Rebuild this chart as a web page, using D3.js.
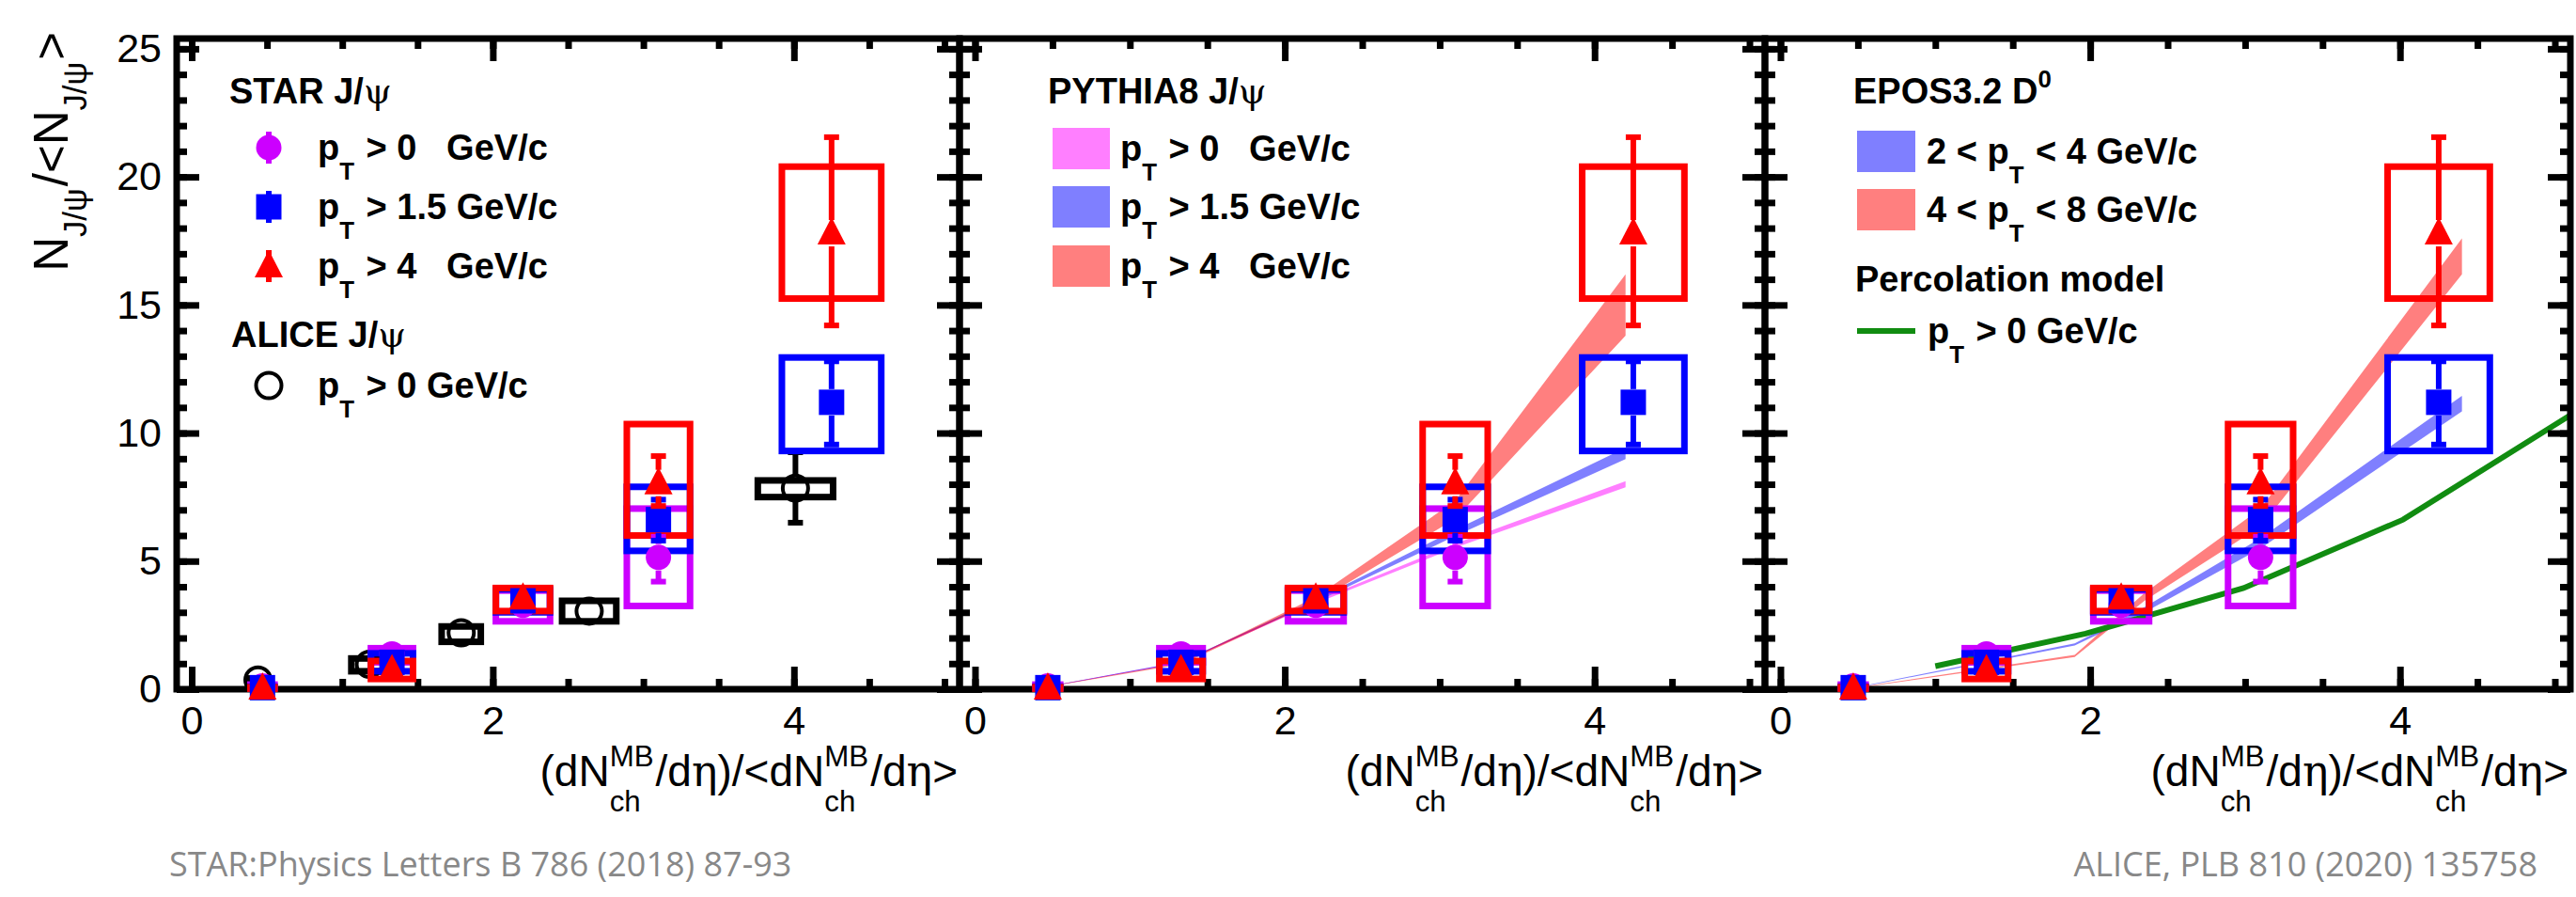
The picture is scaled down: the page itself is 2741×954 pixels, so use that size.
<!DOCTYPE html>
<html>
<head>
<meta charset="utf-8">
<title>J/psi yield vs multiplicity</title>
<style>
  body { margin: 0; background: #fff; }
  svg { font-family: "Liberation Sans", Arial, Helvetica, sans-serif; }
  svg text { white-space: pre; }
</style>
</head>
<body>
<svg width="2741" height="954"></svg>
<script src="https://d3js.org/d3.v7.min.js"></script>
<script>

// ---- data ----

// axis ticks
var xMajor = [0, 2, 4];
var xMinor = [0, 0.5, 1, 1.5, 2, 2.5, 3, 3.5, 4, 4.5, 5];
var yMajor = [0, 5, 10, 15, 20, 25];
var yMinor = d3.range(0, 26, 1);

// STAR J/psi, pT > 0
var star0X = [0.47, 1.33, 2.2, 3.1];
var star0Y = [0.13, 1.38, 3.28, 5.15];
var star0Lo = [0.05, 1.2, 3.05, 4.2];
var star0Hi = [0.2, 1.55, 3.5, 5.95];
var star0SysLo = [0.08, 1.05, 2.65, 3.25];
var star0SysHi = [0.18, 1.6, 3.85, 7.05];

// STAR J/psi, pT > 1.5
var star15X = [0.47, 1.33, 2.2, 3.1, 4.25];
var star15Y = [0.06, 1.05, 3.45, 6.62, 11.2];
var star15Lo = [0.02, 0.85, 3.2, 5.8, 9.55];
var star15Hi = [0.12, 1.25, 3.7, 7.4, 12.8];
var star15SysLo = [0.04, 0.7, 3.0, 5.4, 9.3];
var star15SysHi = [0.1, 1.4, 3.9, 7.9, 12.95];

// STAR J/psi, pT > 4
var star4X = [0.47, 1.33, 2.2, 3.1, 4.25];
var star4Y = [0.04, 0.75, 3.55, 8.05, 17.8];
var star4Lo = [0.01, 0.5, 3.2, 7.15, 14.2];
var star4Hi = [0.1, 1.0, 3.9, 9.1, 21.55];
var star4SysLo = [0.02, 0.4, 3.05, 6.0, 15.25];
var star4SysHi = [0.08, 1.1, 3.95, 10.35, 20.4];

// half width of the STAR systematic boxes
var starHalfW = [0.08, 0.14, 0.18, 0.21, 0.33];

// ALICE J/psi, pT > 0
var aliceX = [0.44, 1.18, 1.79, 2.64, 4.01];
var aliceY = [0.36, 0.97, 2.2, 3.05, 7.85];
var aliceLo = [0.3, 0.9, 2.1, 2.95, 6.5];
var aliceHi = [0.42, 1.05, 2.3, 3.15, 9.25];
var aliceSysLo = [0.3, 0.7, 1.85, 2.65, 7.5];
var aliceSysHi = [0.42, 1.2, 2.45, 3.45, 8.15];
var aliceHalfW = [0.05, 0.12, 0.13, 0.18, 0.25];

// PYTHIA8 bands
var pyX = [0.47, 1.33, 2.2, 3.1, 4.2];
var py0Mid = [0.1, 1.05, 3.4, 5.6, 8.0];
var py0Half = [0.01, 0.02, 0.05, 0.08, 0.12];
var py15Mid = [0.1, 1.05, 3.45, 6.1, 9.2];
var py15Half = [0.01, 0.02, 0.05, 0.12, 0.22];
var py4Mid = [0.1, 1.0, 3.5, 7.0, 15.0];
var py4Half = [0.01, 0.03, 0.1, 0.35, 1.2];

// EPOS3.2 D0 bands
var eposX = [0.45, 1.9, 2.35, 3.1, 4.4];
var eposLowMid = [0.02, 1.75, 3.1, 5.7, 11.15];
var eposLowHalf = [0.01, 0.04, 0.1, 0.2, 0.3];
var eposHighMid = [0.02, 1.3, 3.6, 6.7, 16.9];
var eposHighHalf = [0.01, 0.04, 0.15, 0.35, 0.7];

// percolation model, pT > 0
var percX = [1.0, 1.97, 2.99, 4.02, 5.1];
var percY = [0.9, 2.17, 3.95, 6.62, 10.7];

// ---- drawing ----

var svg = d3.select("svg");
svg.append("rect").attr("width", 2741).attr("height", 954).attr("fill", "#fff");

var y = d3.scaleLinear().domain([0, 25.4]).range([733, 41]);

var pads = [[188, 1021], [1021, 1878], [1878, 2735]].map(function(r) {
    return d3.scaleLinear().domain([-0.1, 5.1]).range(r);
});

function zipPts(xs, ys, lo, hi, slo, shi, hw) {
    return xs.map(function(x, i) {
        return {x: x, y: ys[i], lo: lo[i], hi: hi[i], slo: slo[i], shi: shi[i], hw: hw[i]};
    });
}

var star = [
    {color: "#cc00ff", shape: "circle", pts: zipPts(star0X, star0Y, star0Lo, star0Hi, star0SysLo, star0SysHi, starHalfW)},
    {color: "#0000ff", shape: "square", pts: zipPts(star15X, star15Y, star15Lo, star15Hi, star15SysLo, star15SysHi, starHalfW)},
    {color: "#ff0000", shape: "triangle", pts: zipPts(star4X, star4Y, star4Lo, star4Hi, star4SysLo, star4SysHi, starHalfW)}
];
var alice = {color: "#000", shape: "open", pts: zipPts(aliceX, aliceY, aliceLo, aliceHi, aliceSysLo, aliceSysHi, aliceHalfW)};

function band(xs, mid, half) {
    return xs.map(function(x, i) { return {x: x, lo: mid[i] - half[i], hi: mid[i] + half[i]}; });
}

// rich text: pieces are strings or {sub}, {sup}, {sup, sub} stacked, {sym}
function rich(g, x, yy, pieces, size, weight, anchor) {
    var t = g.append("g").attr("font-weight", weight);
    var cx = 0;
    pieces.forEach(function(p) {
        if (typeof p === "string") p = {t: p};
        if (p.sup != null || p.sub != null) {
            var w1 = 0, w2 = 0;
            if (p.sup != null) {
                w1 = t.append("text").attr("x", cx).attr("y", -size * 0.45)
                    .attr("font-size", size * 0.68).text(p.sup).node().getComputedTextLength();
            }
            if (p.sub != null) {
                w2 = t.append("text").attr("x", cx).attr("y", size * (p.low || 0.5))
                    .attr("font-size", size * 0.68).text(p.sub).node().getComputedTextLength();
            }
            cx += Math.max(w1, w2) + 2;
        } else {
            var e = t.append("text").attr("x", cx).attr("font-size", size).text(p.t);
            if (p.sym) e.attr("font-weight", "normal").attr("font-family", "DejaVu Serif");
            cx += e.node().getComputedTextLength();
        }
    });
    var dx = anchor === "end" ? -cx : anchor === "middle" ? -cx / 2 : 0;
    t.attr("transform", "translate(" + (x + dx) + "," + yy + ")");
    return t;
}

function markerPath(shape) {
    if (shape === "circle" || shape === "open") return d3.symbol(d3.symbolCircle, Math.PI * 13.5 * 13.5)();
    if (shape === "square") return d3.symbol(d3.symbolSquare, 27 * 27)();
    return "M0,-17L15,12L-15,12Z";
}

function drawMarker(g, shape, color, px, py) {
    var m = g.append("path").attr("d", markerPath(shape))
        .attr("transform", "translate(" + px + "," + py + ")");
    if (shape === "open") m.attr("fill", "none").attr("stroke", color).attr("stroke-width", 4);
    else m.attr("fill", color);
}

function drawErr(g, color, px, py, lo, hi) {
    var gap = 14;
    var segs = [];
    if (hi < py - gap) segs.push([hi, py - gap]);
    if (lo > py + gap) segs.push([py + gap, lo]);
    segs.forEach(function(s) {
        g.append("line").attr("x1", px).attr("x2", px).attr("y1", s[0]).attr("y2", s[1])
            .attr("stroke", color).attr("stroke-width", 6);
    });
    [hi, lo].forEach(function(e) {
        if (Math.abs(e - py) > gap) {
            g.append("rect").attr("x", px - 8).attr("y", e - 3).attr("width", 16).attr("height", 6).attr("fill", color);
        }
    });
}

function drawBoxes(g, xs, s) {
    g.selectAll(null).data(s.pts).join("rect")
        .attr("x", function(d) { return xs(d.x - d.hw); })
        .attr("width", function(d) { return xs(d.x + d.hw) - xs(d.x - d.hw); })
        .attr("y", function(d) { return y(d.shi); })
        .attr("height", function(d) { return y(d.slo) - y(d.shi); })
        .attr("fill", "none").attr("stroke", s.color).attr("stroke-width", 7);
}

function drawPoints(g, xs, s) {
    s.pts.forEach(function(d) {
        drawErr(g, s.color, xs(d.x), y(d.y), y(d.lo), y(d.hi));
        drawMarker(g, s.shape, s.color, xs(d.x), y(d.y));
    });
}

function drawFrame(g, xs, i) {
    var r = xs.range();
    var bottom = y.range()[0], top = y.range()[1];
    function strip(a) {
        a.select(".domain").remove();
        a.selectAll("line").attr("stroke-width", 7);
        a.attr("font-family", null).attr("font-size", 43);
    }
    // x minor + major ticks, bottom and top
    g.append("g").attr("transform", "translate(0," + bottom + ")")
        .call(d3.axisBottom(xs).tickValues(xMinor).tickSize(-11).tickFormat("")).call(strip);
    g.append("g").attr("transform", "translate(0," + bottom + ")")
        .call(d3.axisBottom(xs).tickValues(xMajor).tickSizeInner(-24).tickSizeOuter(0).tickPadding(17)
            .tickFormat(d3.format("d"))).call(strip);
    g.append("g").attr("transform", "translate(0," + top + ")")
        .call(d3.axisTop(xs).tickValues(xMinor).tickSize(-11).tickFormat("")).call(strip);
    g.append("g").attr("transform", "translate(0," + top + ")")
        .call(d3.axisTop(xs).tickValues(xMajor).tickSize(-24).tickFormat("")).call(strip);
    // y ticks left and right
    g.append("g").attr("transform", "translate(" + r[0] + ",0)")
        .call(d3.axisLeft(y).tickValues(yMinor).tickSize(-11).tickFormat("")).call(strip);
    g.append("g").attr("transform", "translate(" + r[0] + ",0)")
        .call(d3.axisLeft(y).tickValues(yMajor).tickSizeInner(-24).tickSizeOuter(0).tickPadding(16)
            .tickFormat(i === 0 ? d3.format("d") : "")).call(strip);
    g.append("g").attr("transform", "translate(" + r[1] + ",0)")
        .call(d3.axisRight(y).tickValues(yMinor).tickSize(-11).tickFormat("")).call(strip);
    g.append("g").attr("transform", "translate(" + r[1] + ",0)")
        .call(d3.axisRight(y).tickValues(yMajor).tickSize(-24).tickFormat("")).call(strip);
    g.append("rect").attr("x", r[0]).attr("y", top).attr("width", r[1] - r[0]).attr("height", bottom - top)
        .attr("fill", "none").attr("stroke", "#000").attr("stroke-width", 7);
    // x title
    rich(g, r[1] - 2, 836, ["(dN", {sup: "MB", sub: "ch", low: 0.58}, "/d", {t: "\u03b7", sym: true}, ")/<dN",
        {sup: "MB", sub: "ch", low: 0.58}, "/d", {t: "\u03b7", sym: true}, ">"], 46, "normal", "end");
}

var area = function(xs) {
    return d3.area()
        .x(function(d) { return xs(d.x); })
        .y0(function(d) { return y(d.lo); })
        .y1(function(d) { return y(d.hi); });
};

pads.forEach(function(xs, i) {
    var g = svg.append("g");
    var r = xs.range();
    svg.append("clipPath").attr("id", "clip" + i).append("rect")
        .attr("x", r[0]).attr("y", y.range()[1]).attr("width", r[1] - r[0]).attr("height", y.range()[0] - y.range()[1]);
    // data markers may spill over the frame like in ROOT, only curves are clipped
    var plot = g.append("g");
    var curves = g.append("g").attr("clip-path", "url(#clip" + i + ")");

    if (i === 0) {
        drawBoxes(plot, xs, alice);
        drawPoints(plot, xs, alice);
    }
    star.forEach(function(s) { drawBoxes(plot, xs, s); });
    star.forEach(function(s) { drawPoints(plot, xs, s); });

    if (i === 1) {
        [[py0Mid, py0Half, "#ff00ff"], [py15Mid, py15Half, "#0000ff"], [py4Mid, py4Half, "#ff0000"]].forEach(function(b) {
            curves.append("path").datum(band(pyX, b[0], b[1])).attr("d", area(xs))
                .attr("fill", b[2]).attr("fill-opacity", 0.5);
        });
    }
    if (i === 2) {
        [[eposLowMid, eposLowHalf, "#0000ff"], [eposHighMid, eposHighHalf, "#ff0000"]].forEach(function(b) {
            curves.append("path").datum(band(eposX, b[0], b[1])).attr("d", area(xs))
                .attr("fill", b[2]).attr("fill-opacity", 0.5);
        });
        curves.append("path").datum(percX.map(function(x, k) { return [x, percY[k]]; }))
            .attr("d", d3.line().x(function(d) { return xs(d[0]); }).y(function(d) { return y(d[1]); }))
            .attr("fill", "none").attr("stroke", "#118c11").attr("stroke-width", 6);
    }
    drawFrame(g, xs, i);
    // markers sit on top of the frame line
    g.node().appendChild(plot.node());
});

// y title
var yt = rich(svg, 0, 0, ["N", {sub: "J/\u03c8", low: 0.4}, "/<N", {sub: "J/\u03c8", low: 0.4}, ">"], 51, "normal", "start");
var ytw = yt.node().getBBox().width;
yt.attr("transform", "translate(72," + (34 + ytw) + ") rotate(-90)");

// ---- legends ----
var leg = svg.append("g");
var L = 38;
function ptLabel(x, yy, before, after) {
    var parts = [];
    if (before) parts.push(before);
    parts.push("p", {sub: "T", low: 0.55});
    parts.push(after);
    return rich(leg, x, yy, parts, L, "bold", "start");
}

// pad 1
rich(leg, 244, 110, ["STAR J/", {t: "\u03c8", sym: true}], L, "bold", "start");
[[157, star[0]], [220, star[1]], [283, star[2]]].forEach(function(e) {
    leg.append("line").attr("x1", 286).attr("x2", 286).attr("y1", e[0] - 17).attr("y2", e[0] + 17)
        .attr("stroke", e[1].color).attr("stroke-width", 6);
    drawMarker(leg, e[1].shape, e[1].color, 286, e[0]);
});
ptLabel(338, 170, null, " > 0   GeV/c");
ptLabel(338, 233, null, " > 1.5 GeV/c");
ptLabel(338, 296, null, " > 4   GeV/c");
rich(leg, 246, 369, ["ALICE J/", {t: "\u03c8", sym: true}], L, "bold", "start");
drawMarker(leg, "open", "#000", 286, 410);
ptLabel(338, 423, null, " > 0 GeV/c");

// pad 2
rich(leg, 1115, 110, ["PYTHIA8 J/", {t: "\u03c8", sym: true}], L, "bold", "start");
[[158, "#ff00ff"], [220, "#0000ff"], [283, "#ff0000"]].forEach(function(e) {
    leg.append("rect").attr("x", 1120).attr("y", e[0] - 22).attr("width", 61).attr("height", 44)
        .attr("fill", e[1]).attr("fill-opacity", 0.5);
});
ptLabel(1192, 171, null, " > 0   GeV/c");
ptLabel(1192, 233, null, " > 1.5 GeV/c");
ptLabel(1192, 296, null, " > 4   GeV/c");

// pad 3
rich(leg, 1972, 110, ["EPOS3.2 D", {sup: "0"}], L, "bold", "start");
[[161, "#0000ff"], [223, "#ff0000"]].forEach(function(e) {
    leg.append("rect").attr("x", 1976).attr("y", e[0] - 22).attr("width", 62).attr("height", 44)
        .attr("fill", e[1]).attr("fill-opacity", 0.5);
});
ptLabel(2050, 174, "2 < ", " < 4 GeV/c");
ptLabel(2050, 236, "4 < ", " < 8 GeV/c");
rich(leg, 1974, 310, ["Percolation model"], L, "bold", "start");
leg.append("line").attr("x1", 1976).attr("x2", 2038).attr("y1", 352).attr("y2", 352)
    .attr("stroke", "#118c11").attr("stroke-width", 6);
ptLabel(2051, 365, null, " > 0 GeV/c");

// ---- references ----
svg.append("text").attr("x", 180).attr("y", 932).attr("font-family", "Open Sans")
    .attr("font-size", 36).attr("fill", "#888").text("STAR:Physics Letters B 786 (2018) 87-93");
svg.append("text").attr("x", 2700).attr("y", 932).attr("text-anchor", "end").attr("font-family", "Open Sans")
    .attr("font-size", 36).attr("fill", "#888").text("ALICE, PLB 810 (2020) 135758");

</script>
</body>
</html>
